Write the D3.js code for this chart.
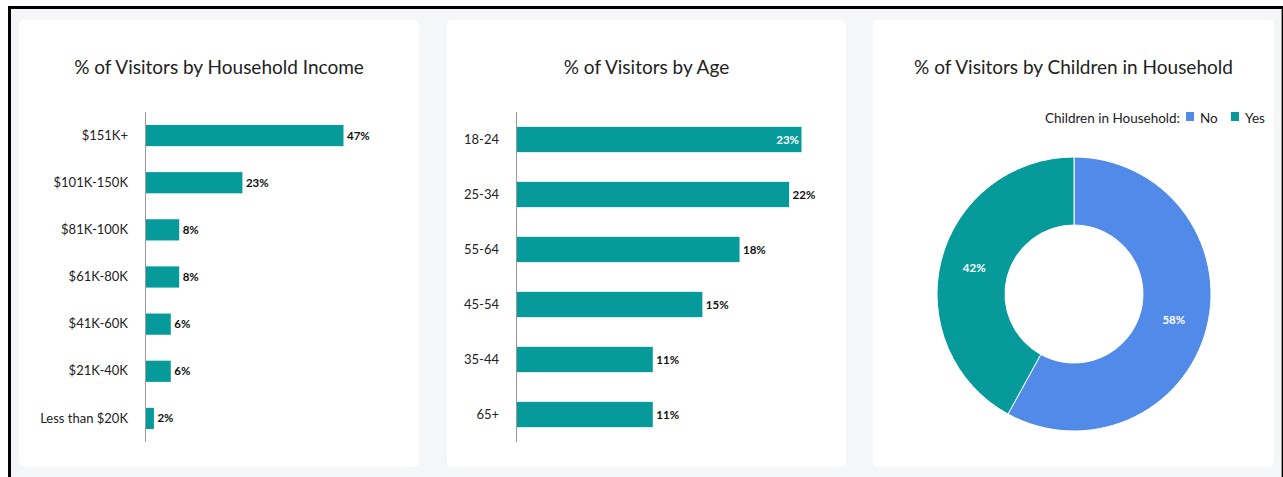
<!DOCTYPE html>
<html>
<head>
<meta charset="utf-8">
<script src="https://cdn.jsdelivr.net/npm/d3@7"></script>
<style>
  html, body { margin: 0; padding: 0; background: #fff; }
  svg { display: block; font-family: Lato, "Open Sans", sans-serif; }
</style>
</head>
<body>
<svg id="chart" width="1283" height="477"></svg>
<script>
// data
var incomeCats = ["$151K+", "$101K-150K", "$81K-100K", "$61K-80K", "$41K-60K", "$21K-40K", "Less than $20K"];
var incomeVals = [47, 23, 8, 8, 6, 6, 2];

var ageCats = ["18-24", "25-34", "55-64", "45-54", "35-44", "65+"];
var ageVals = [23, 22, 18, 15, 11, 11];

var kidsCats = ["No", "Yes"];
var kidsVals = [58, 42];

var titles = ["% of Visitors by Household Income", "% of Visitors by Age", "% of Visitors by Children in Household"];

var teal = "#079a9b", blue = "#518ae8";

var svg = d3.select("#chart");

// frame
svg.append("rect").attr("x", 8).attr("y", 6).attr("width", 1283 - 8).attr("height", 477 - 6).attr("fill", "#000");
svg.append("rect").attr("x", 11).attr("y", 9).attr("width", 1270).attr("height", 477 - 9).attr("fill", "#f5f6f8");
svg.append("line").attr("x1", 1281.5).attr("x2", 1281.5).attr("y1", 9).attr("y2", 477).attr("stroke", "#999");

var panels = [{x: 19, w: 400}, {x: 447, w: 399}, {x: 873, w: 401}];
panels.forEach(function (p, i) {
  svg.append("rect").attr("x", p.x).attr("y", 20).attr("width", p.w).attr("height", 447)
    .attr("rx", 5).attr("fill", "#fff");
  svg.append("text").attr("x", p.x + p.w / 2).attr("y", 74)
    .attr("text-anchor", "middle").attr("font-size", 19).attr("fill", "#222")
    .text(titles[i]);
});

function barChart(cats, vals, x0, x1, maxV, pad, panelRight) {
  var y = d3.scaleBand().domain(cats).range([112, 442]).paddingInner(pad).paddingOuter(pad / 2);
  var x = d3.scaleLinear().domain([0, maxV]).range([x0, x1]);
  var g = svg.append("g");

  var data = cats.map(function (c, i) { return {c: c, v: vals[i]}; });

  g.selectAll("rect.bar").data(data).enter().append("rect")
    .attr("class", "bar")
    .attr("x", x(0) + 0.5)
    .attr("y", function (d) { return y(d.c); })
    .attr("width", function (d) { return x(d.v) - x(0); })
    .attr("height", y.bandwidth())
    .attr("fill", teal);

  var ax = g.append("g").attr("transform", "translate(" + x(0) + ",0)")
    .call(d3.axisLeft(y).tickSize(0).tickPadding(17));
  ax.select(".domain").attr("stroke", "#999").attr("d", "M0.5,112V442");
  ax.selectAll("text").attr("font-size", 13).attr("fill", "#222")
    .attr("font-family", "Lato, sans-serif");

  g.selectAll("text.val").data(data).enter().append("text")
    .attr("class", "val")
    .each(function (d) {
      var inside = x(d.v) + 32 > panelRight - 20;
      d3.select(this)
        .attr("x", inside ? x(d.v) - 2 : x(d.v) + 4)
        .attr("text-anchor", inside ? "end" : "start")
        .attr("fill", inside ? "#fff" : "#111");
    })
    .attr("y", function (d) { return y(d.c) + y.bandwidth() / 2; })
    .attr("dy", "0.35em")
    .attr("font-size", 11.5).attr("font-weight", "bold")
    .text(function (d) { return d.v + "%"; });
}

barChart(incomeCats, incomeVals, 145, 343, 47, 0.55, 419);
barChart(ageCats, ageVals, 516, 801, 23, 0.54, 846);

// donut
var cx = 1074, cy = 294, R = 137, r0 = 69;
var pie = d3.pie().sort(null).value(function (d) { return d.v; });
var arc = d3.arc().innerRadius(r0).outerRadius(R);
var lab = d3.arc().innerRadius((r0 + R) / 2).outerRadius((r0 + R) / 2);
var color = d3.scaleOrdinal().domain(kidsCats).range([blue, teal]);
var pdata = pie(kidsCats.map(function (c, i) { return {c: c, v: kidsVals[i]}; }));

var dg = svg.append("g").attr("transform", "translate(" + cx + "," + cy + ")");
dg.selectAll("path").data(pdata).enter().append("path")
  .attr("d", arc).attr("fill", function (d) { return color(d.data.c); })
  .attr("stroke", "#fff").attr("stroke-width", 1);
dg.selectAll("text").data(pdata).enter().append("text")
  .attr("transform", function (d) { return "translate(" + lab.centroid(d) + ")"; })
  .attr("text-anchor", "middle").attr("dy", "0.35em")
  .attr("font-size", 11.5).attr("font-weight", "bold").attr("fill", "#fff")
  .text(function (d) { return d.data.v + "%"; });

// legend
var lg = svg.append("g").attr("font-size", 13.5).attr("fill", "#222");
lg.append("text").attr("x", 1180).attr("y", 118).attr("dy", "0.35em")
  .attr("text-anchor", "end").text("Children in Household:");
var items = [{c: "No", x: 1186}, {c: "Yes", x: 1231}];
items.forEach(function (it) {
  lg.append("rect").attr("x", it.x).attr("y", 112).attr("width", 8).attr("height", 9)
    .attr("fill", color(it.c));
  lg.append("text").attr("x", it.x + 14).attr("y", 118).attr("dy", "0.35em").text(it.c);
});
</script>
</body>
</html>
